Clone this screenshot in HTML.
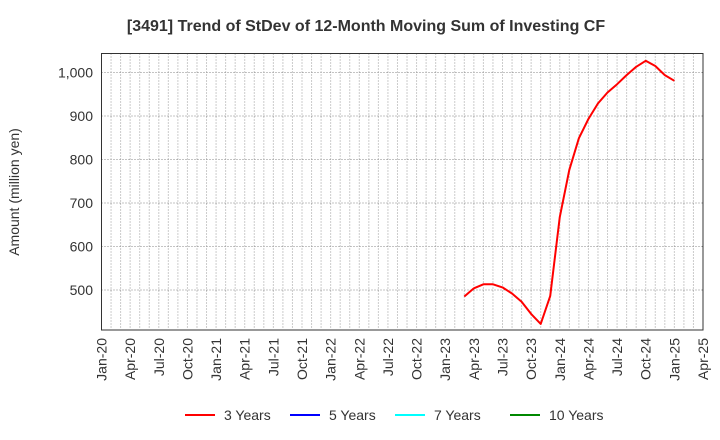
<!DOCTYPE html>
<html><head><meta charset="utf-8"><style>
body{margin:0;background:#fff;font-family:"Liberation Sans",Arial,sans-serif}
svg{display:block}
</style></head><body>
<svg id="chart" width="720" height="440" font-family="Liberation Sans, Arial, sans-serif">
<text x="366" y="31" text-anchor="middle" font-size="16" font-weight="bold" fill="#333">[3491]  Trend of StDev of 12-Month Moving Sum of Investing CF</text>
<text transform="translate(19,192) rotate(-90)" text-anchor="middle" font-size="14" fill="#333">Amount (million yen)</text>
<g id="grid"></g><g id="ticks"></g><g id="series"></g>
<rect x="101.5" y="53.5" width="601.5" height="276.5" fill="none" stroke="#333" stroke-width="1"/>
<g font-size="14" fill="#333">
<g><line x1="185" y1="415" x2="215" y2="415" stroke="#f00" stroke-width="2"/><text x="224" y="420">3 Years</text></g>
<g><line x1="290" y1="415" x2="320" y2="415" stroke="#00f" stroke-width="2"/><text x="329" y="420">5 Years</text></g>
<g><line x1="395" y1="415" x2="425" y2="415" stroke="#0ff" stroke-width="2"/><text x="434" y="420">7 Years</text></g>
<g><line x1="510" y1="415" x2="540" y2="415" stroke="#080" stroke-width="2"/><text x="549" y="420">10 Years</text></g>
</g>
</svg>
<script>
const xLabels=["Jan-20","Apr-20","Jul-20","Oct-20","Jan-21","Apr-21","Jul-21","Oct-21","Jan-22","Apr-22","Jul-22","Oct-22","Jan-23","Apr-23","Jul-23","Oct-23","Jan-24","Apr-24","Jul-24","Oct-24","Jan-25","Apr-25"];
const yTicks=[500,600,700,800,900,1000];
const startMonth3y=38;
const values3y=[485,504,513,513,506,492,473,445,422,486,668,776,849,893,929,954,973,994,1013,1027,1015,994,981];
const NS="http://www.w3.org/2000/svg";
const L=101.5,R=703,T=53.5,B=330;
const X=m=>L+m*(R-L)/63;
const Y=v=>290-(v-500)*0.435;
const grid=document.getElementById('grid'),ticks=document.getElementById('ticks'),ser=document.getElementById('series');
function mk(t,a,p){const e=document.createElementNS(NS,t);for(const k in a)e.setAttribute(k,a[k]);p.appendChild(e);return e;}
for(let m=1;m<63;m++){
 const g=mk('line',{x1:X(m),x2:X(m),y1:T,y2:B,stroke:'#999','stroke-dasharray':'1,2','stroke-width':1},grid);
 
 
}
yTicks.forEach(v=>{
 const g=mk('line',{x1:L,x2:R,y1:Y(v),y2:Y(v),stroke:'#888','stroke-dasharray':'1,2','stroke-width':1},grid);
 
 
 const t=mk('text',{x:93,y:Y(v)+5,'text-anchor':'end','font-size':14,fill:'#333'},ticks);
 t.textContent=v.toLocaleString('en-US');
 
 
});
xLabels.forEach((s,i)=>{
 const x=X(i*3);
 const t=mk('text',{transform:`translate(${x+5},338) rotate(-90)`,'text-anchor':'end','font-size':14,fill:'#333'},ticks);
 t.textContent=s;
 
 
});
const pts=values3y.map((v,i)=>X(startMonth3y+i).toFixed(1)+','+Y(v).toFixed(1)).join(' ');
const pl=mk('polyline',{points:pts,fill:'none',stroke:'#f00','stroke-width':2,'stroke-linejoin':'round'},ser);


</script>
</body></html>
